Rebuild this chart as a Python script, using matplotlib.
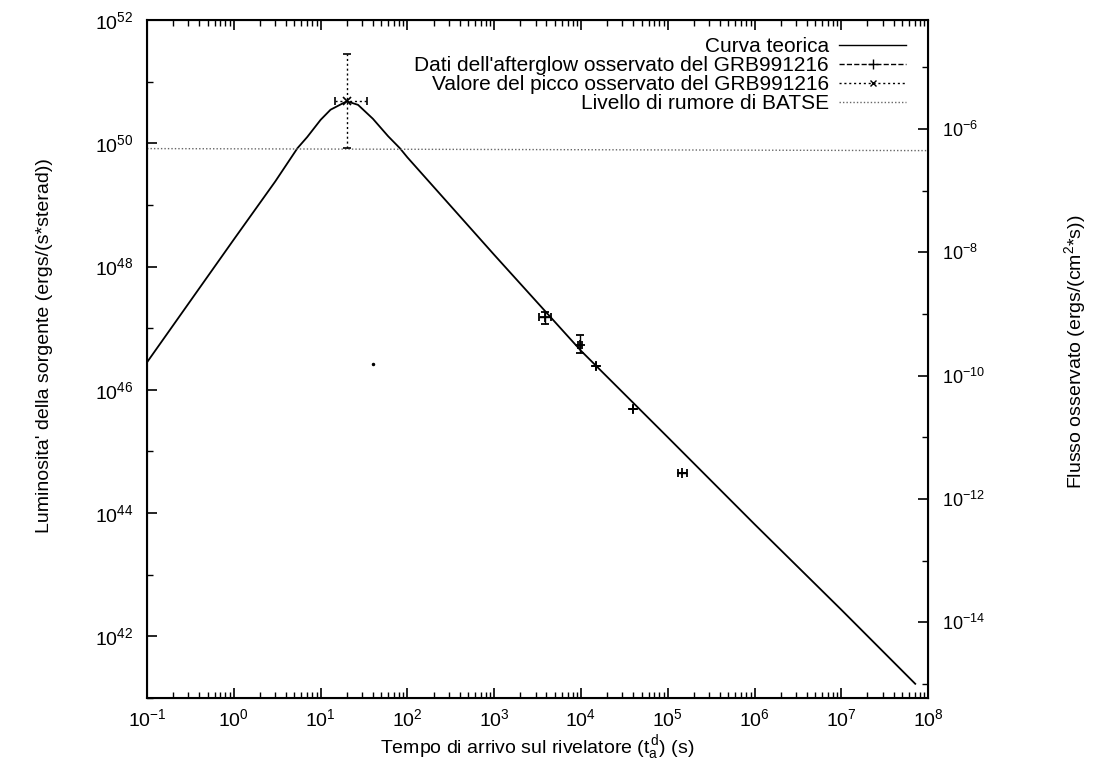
import numpy as np
import matplotlib
matplotlib.use("Agg")
import matplotlib.pyplot as plt
from matplotlib.lines import Line2D
from matplotlib.ticker import FixedLocator, NullFormatter, LogFormatterMathtext

plt.rcParams['font.family'] = ['Liberation Sans', 'DejaVu Sans']
plt.rcParams['mathtext.fontset'] = 'custom'
plt.rcParams['mathtext.rm'] = 'Liberation Sans'
plt.rcParams['mathtext.it'] = 'Liberation Sans'

# curva teorica
t_curve = [0.1, 0.3, 1, 3, 5.4, 7, 10, 13, 20, 27, 40, 60, 82, 100,
           1e3, 1e4, 1e5, 1e6, 1e7, 7.1e7]
L_curve = [2.8e46, 2.5e47, 2.75e48, 2.4e49, 8.3e49, 1.26e50, 2.4e50, 3.5e50,
           4.8e50, 4.2e50, 2.5e50, 1.3e50, 8.3e49, 5.9e49,
           1.55e48, 4.3e46, 1.7e45, 6.6e43, 2.7e42, 1.7e41]

# dati dell'afterglow
t_aft = [3850, 9800, 1.48e4, 4.0e4, 1.44e5]
L_aft = [1.5e47, 5.4e46, 2.45e46, 4.9e45, 4.5e44]
t_aft_lo = [3300, 9300, 1.48e4, 4.0e4, 1.32e5]
t_aft_hi = [4570, 10300, 1.48e4, 4.0e4, 1.66e5]
L_aft_lo = [1.15e47, 4.0e46, 2.45e46, 4.9e45, 4.5e44]
L_aft_hi = [1.86e47, 7.8e46, 2.45e46, 4.9e45, 4.5e44]

# valore del picco
t_peak = [20]
L_peak = [4.8e50]
t_peak_lo = [14.7]
t_peak_hi = [34]
L_peak_lo = [8.3e49]
L_peak_hi = [2.8e51]

# punto isolato
t_dot = [40]
L_dot = [2.6e46]

# livello di rumore BATSE
t_noise = [0.1, 1e8]
L_noise = [8.2e49, 7.6e49]

# fattore tra luminosita' e flusso (asse destro)
flux_factor = 10 ** -56.23

x_ticks = [10.0 ** k for k in range(-1, 9)]
yl_ticks = [10.0 ** k for k in range(42, 53, 2)]
yl_minor = [10.0 ** k for k in range(41, 53, 2)]
yr_ticks = [10.0 ** k for k in range(-14, -5, 2)]
yr_minor = [10.0 ** k for k in range(-15, -4, 2)]

fig = plt.figure(figsize=(10.94, 7.69), dpi=100)
ax = fig.add_axes([0.1344, 0.0923, 0.714, 0.8817])
ax.set_xscale('log')
ax.set_yscale('log')
ax.set_xlim(0.1, 1e8)
ax.set_ylim(1e41, 1e52)

ax.plot(t_curve, L_curve, color='black', lw=1.3)
ax.plot(t_noise, L_noise, color='#666666', lw=1.0, ls=(0, (1, 1.5)))

t_aft = np.array(t_aft)
L_aft = np.array(L_aft)
ax.errorbar(t_aft, L_aft,
            xerr=[t_aft - np.array(t_aft_lo), np.array(t_aft_hi) - t_aft],
            yerr=[L_aft - np.array(L_aft_lo), np.array(L_aft_hi) - L_aft],
            fmt='+', color='black', ms=7, mew=1.3, elinewidth=1.0, capsize=3)

t_peak = np.array(t_peak)
L_peak = np.array(L_peak)
eb = ax.errorbar(t_peak, L_peak,
                 xerr=[t_peak - np.array(t_peak_lo), np.array(t_peak_hi) - t_peak],
                 yerr=[L_peak - np.array(L_peak_lo), np.array(L_peak_hi) - L_peak],
                 fmt='x', color='black', ms=6, mew=1.2, elinewidth=1.0, capsize=3)
for c in eb[2]:
    c.set_linestyle((0, (1.5, 2)))

ax.plot(t_dot, L_dot, '.', color='black', ms=3)

ax.xaxis.set_major_locator(FixedLocator(x_ticks))
ax.xaxis.set_major_formatter(LogFormatterMathtext())
ax.yaxis.set_major_locator(FixedLocator(yl_ticks))
ax.yaxis.set_minor_locator(FixedLocator(yl_minor))
ax.yaxis.set_minor_formatter(NullFormatter())
ax.tick_params(which='both', direction='in', top=True, right=False)
ax.tick_params(which='major', length=7, width=1.2)
ax.tick_params(which='minor', length=4, width=1.0)
ax.tick_params(axis='y', labelsize=14, pad=10)
ax.tick_params(axis='x', labelsize=14, pad=7)
for sp in ax.spines.values():
    sp.set_linewidth(1.5)

ax2 = ax.twinx()
ax2.set_yscale('log')
ax2.set_ylim(1e41 * flux_factor, 1e52 * flux_factor)
ax2.yaxis.set_major_locator(FixedLocator(yr_ticks))
ax2.yaxis.set_minor_locator(FixedLocator(yr_minor))
ax2.yaxis.set_minor_formatter(NullFormatter())
ax2.tick_params(which='both', direction='in')
ax2.tick_params(which='major', length=7, width=1.2, labelsize=13, pad=10)
ax2.tick_params(which='minor', length=4, width=1.0)

narrow = ['Liberation Sans Narrow', 'Liberation Sans', 'DejaVu Sans']
ax.set_xlabel(r"Tempo di arrivo sul rivelatore (t$_a^{\,d}$) (s)", fontsize=14,
              family=narrow)
ax.xaxis.set_label_coords(0.50, -0.052)
ax.set_ylabel("Luminosita' della sorgente (ergs/(s*sterad))", fontsize=14)
ax.yaxis.set_label_coords(-0.12, 0.52)
ax2.set_ylabel(r"Flusso osservato (ergs/(cm$^2$*s))", fontsize=14)
ax2.yaxis.set_label_coords(1.172, 0.51)

handles = [
    Line2D([], [], color='black', lw=1.0),
    Line2D([], [], color='black', lw=1.0, ls='--', marker='+', ms=7),
    Line2D([], [], color='black', lw=1.0, ls=(0, (1.5, 2)), marker='x', ms=5),
    Line2D([], [], color='#666666', lw=1.0, ls=(0, (1, 1.5))),
]
labels = ["Curva teorica",
          "Dati dell'afterglow osservato del GRB991216",
          "Valore del picco osservato del GRB991216",
          "Livello di rumore di BATSE"]
ax.legend(handles, labels, loc='upper right', bbox_to_anchor=(0.985, 0.99),
          frameon=False, markerfirst=False, fontsize=15, handlelength=3.2,
          labelspacing=0.0, borderpad=0, handletextpad=0.5)

fig.savefig('out.png', dpi=100)
